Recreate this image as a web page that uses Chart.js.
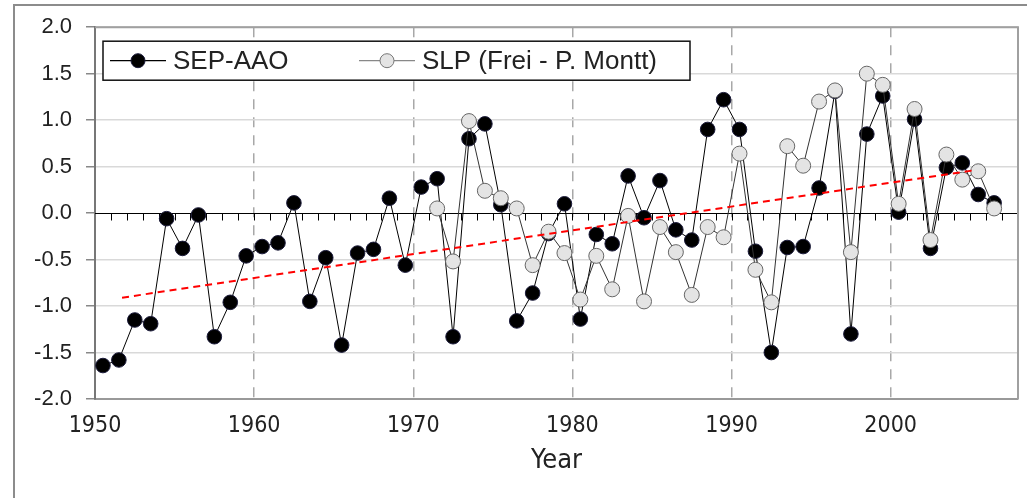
<!DOCTYPE html>
<html>
<head>
<meta charset="utf-8">
<script src="https://cdn.jsdelivr.net/npm/chart.js@4.4.1/dist/chart.umd.min.js"></script>
<style>
    html, body { margin: 0; padding: 0; background: #fff; }
    body { width: 1027px; height: 498px; position: relative; overflow: hidden; }
    #frame {
        position: absolute; left: 13px; top: 4px; width: 1100px; height: 600px;
        border-left: 2px solid #8c8c8c; border-top: 2px solid #8c8c8c;
    }
    #chart { position: absolute; left: 0; top: 0; }
</style>
</head>
<body>
<div id="frame"></div>
<canvas id="chart" width="1027" height="498"></canvas>
<script>
// years of the record (points sit at mid-year)
const years = [
    1950, 1951, 1952, 1953, 1954, 1955, 1956, 1957, 1958, 1959,
    1960, 1961, 1962, 1963, 1964, 1965, 1966, 1967, 1968, 1969,
    1970, 1971, 1972, 1973, 1974, 1975, 1976, 1977, 1978, 1979,
    1980, 1981, 1982, 1983, 1984, 1985, 1986, 1987, 1988, 1989,
    1990, 1991, 1992, 1993, 1994, 1995, 1996, 1997, 1998, 1999,
    2000, 2001, 2002, 2003, 2004, 2005, 2006
];

// SEP-AAO index
const sepAao = [
    -1.64, -1.58, -1.15, -1.19, -0.06, -0.38, -0.02, -1.33, -0.96, -0.46,
    -0.36, -0.32, 0.11, -0.95, -0.48, -1.42, -0.43, -0.39, 0.16, -0.56,
    0.28, 0.37, -1.33, 0.80, 0.96, 0.09, -1.16, -0.86, -0.22, 0.10,
    -1.14, -0.23, -0.33, 0.40, -0.05, 0.35, -0.18, -0.29, 0.90, 1.22,
    0.90, -0.41, -1.50, -0.37, -0.36, 0.27, 1.31, -1.30, 0.85, 1.26,
    0.01, 1.01, -0.38, 0.49, 0.54, 0.20, 0.11
];

// SLP difference Frei - Puerto Montt, starts 1971
const slpYears = years.filter(y => y >= 1971);
const slp = [
    0.05, -0.52, 0.99, 0.24, 0.16, 0.05, -0.56, -0.20, -0.43,
    -0.93, -0.46, -0.82, -0.03, -0.95, -0.15, -0.42, -0.88, -0.15, -0.26,
    0.64, -0.61, -0.96, 0.72, 0.51, 1.20, 1.32, -0.42, 1.50, 1.38,
    0.10, 1.12, -0.29, 0.63, 0.36, 0.45, 0.05
];

// linear trend of SEP-AAO (end points)
const trendX = [1951.7, 2005.2];
const trendY = [-0.91, 0.46];

const yTicks = [-2.0, -1.5, -1.0, -0.5, 0.0, 0.5, 1.0, 1.5, 2.0];
const xTicks = [1950, 1960, 1970, 1980, 1990, 2000];

const MID_YEAR = 0.5;
const toPoints = (xs, ys) => xs.map((yr, i) => ({ x: yr + MID_YEAR, y: ys[i] }));

const legendItems = [
    { label: "SEP-AAO", fill: "#000", stroke: "#1b1b3a", line: "#000" },
    { label: "SLP (Frei - P. Montt)", fill: "#e4e4e4", stroke: "#777", line: "#888" },
];

const condensed = "'DejaVu Sans Condensed', 'DejaVu Sans', sans-serif";

const extras = {
    id: "extras",
    beforeDatasetsDraw(chart) {
        const { ctx, chartArea: a, scales: { x, y } } = chart;
        const y0 = Math.round(y.getPixelForValue(0)) + 0.5;
        ctx.save();
        ctx.strokeStyle = "#000";
        ctx.lineWidth = 1;
        ctx.beginPath();
        ctx.moveTo(a.left, y0);
        ctx.lineTo(a.right, y0);
        for (let yr = Math.ceil(x.min) + 1; yr < x.max; yr++) {
            const px = Math.round(x.getPixelForValue(yr)) + 0.5;
            ctx.moveTo(px, y0);
            ctx.lineTo(px, y0 + 7);
        }
        ctx.stroke();

        // top and right frame of the plot
        ctx.strokeStyle = "#a0a0a0";
        ctx.lineWidth = 2;
        ctx.beginPath();
        ctx.moveTo(a.left, a.top);
        ctx.lineTo(a.right, a.top);
        ctx.lineTo(a.right, a.bottom);
        ctx.stroke();
        ctx.restore();
    },
    afterDraw(chart) {
        const { ctx, chartArea: a } = chart;
        const bx = a.left + 8, by = a.top + 14, bw = 587, bh = 39;
        const cy = by + bh / 2;
        const slots = [bx + 7, bx + 256];
        ctx.save();
        ctx.fillStyle = "#fff";
        ctx.fillRect(bx, by, bw, bh);
        ctx.strokeStyle = "#111";
        ctx.lineWidth = 1.5;
        ctx.strokeRect(bx, by, bw, bh);
        ctx.font = "26px 'Liberation Sans', Arial, sans-serif";
        ctx.textBaseline = "middle";
        legendItems.forEach((it, i) => {
            const lx = slots[i];
            ctx.strokeStyle = it.line;
            ctx.lineWidth = 1.2;
            ctx.beginPath();
            ctx.moveTo(lx, cy);
            ctx.lineTo(lx + 56, cy);
            ctx.stroke();
            ctx.beginPath();
            ctx.arc(lx + 28, cy, 7, 0, Math.PI * 2);
            ctx.fillStyle = it.fill;
            ctx.fill();
            ctx.strokeStyle = it.stroke;
            ctx.lineWidth = 1;
            ctx.stroke();
            ctx.fillStyle = "#222";
            ctx.fillText(it.label, lx + 63, cy + 1);
        });
        ctx.restore();
    },
};

const ctx = document.getElementById("chart").getContext("2d");
new Chart(ctx, {
    type: "scatter",
    data: {
        datasets: [
            {
                label: "trend",
                data: trendX.map((v, i) => ({ x: v, y: trendY[i] })),
                showLine: true,
                borderColor: "#ff0000",
                borderWidth: 2,
                borderDash: [7, 5],
                pointRadius: 0,
                order: 0,
            },
            {
                label: "SLP (Frei - P. Montt)",
                data: toPoints(slpYears, slp),
                showLine: true,
                borderColor: "#333",
                borderWidth: 1,
                pointRadius: 7.5,
                pointBackgroundColor: "#e4e4e4",
                pointBorderColor: "#666",
                pointBorderWidth: 1,
                order: 1,
            },
            {
                label: "SEP-AAO",
                data: toPoints(years, sepAao),
                showLine: true,
                borderColor: "#000",
                borderWidth: 1,
                pointRadius: 7.3,
                pointBackgroundColor: "#000",
                pointBorderColor: "#1b1b3a",
                pointBorderWidth: 1,
                order: 2,
            },
        ],
    },
    options: {
        responsive: false,
        animation: false,
        layout: { padding: { left: 0, top: 27, right: 9, bottom: 0 } },
        plugins: {
            legend: { display: false },
            tooltip: { enabled: false },
        },
        scales: {
            x: {
                type: "linear",
                min: 1950,
                max: 2008,
                afterFit: (s) => { s.height = 99; },
                afterBuildTicks: (s) => { s.ticks = xTicks.map(v => ({ value: v })); },
                ticks: {
                    includeBounds: false,
                    padding: 8,
                    color: "#222",
                    font: { family: condensed, size: 23 },
                    callback: (v) => String(v),
                },
                grid: {
                    color: (c) => (c.tick && c.tick.value === 1950 ? "rgba(0,0,0,0)" : "#a8a8a8"),
                    lineWidth: 1.5,
                    tickLength: 5,
                    tickColor: "rgba(0,0,0,0)",
                },
                border: { color: "#999", width: 2, dash: [10, 8] },
                title: {
                    display: true,
                    text: "Year",
                    color: "#222",
                    font: { family: condensed, size: 27 },
                    padding: { top: 0, bottom: 21 },
                },
            },
            y: {
                min: -2,
                max: 2,
                afterFit: (s) => { s.width = 95; },
                afterBuildTicks: (s) => { s.ticks = yTicks.map(v => ({ value: v })); },
                ticks: {
                    padding: 14,
                    color: "#222",
                    font: { family: "'Liberation Sans', Arial, sans-serif", size: 22 },
                    callback: (v) => v.toFixed(1),
                },
                grid: {
                    color: (c) => (c.tick && c.tick.value === 0 ? "rgba(0,0,0,0)" : "#d9d9d9"),
                    lineWidth: 1.5,
                    tickLength: 9,
                    tickColor: "#888",
                },
                border: { color: "#777", width: 2 },
            },
        },
    },
    plugins: [extras],
});
</script>
</body>
</html>
